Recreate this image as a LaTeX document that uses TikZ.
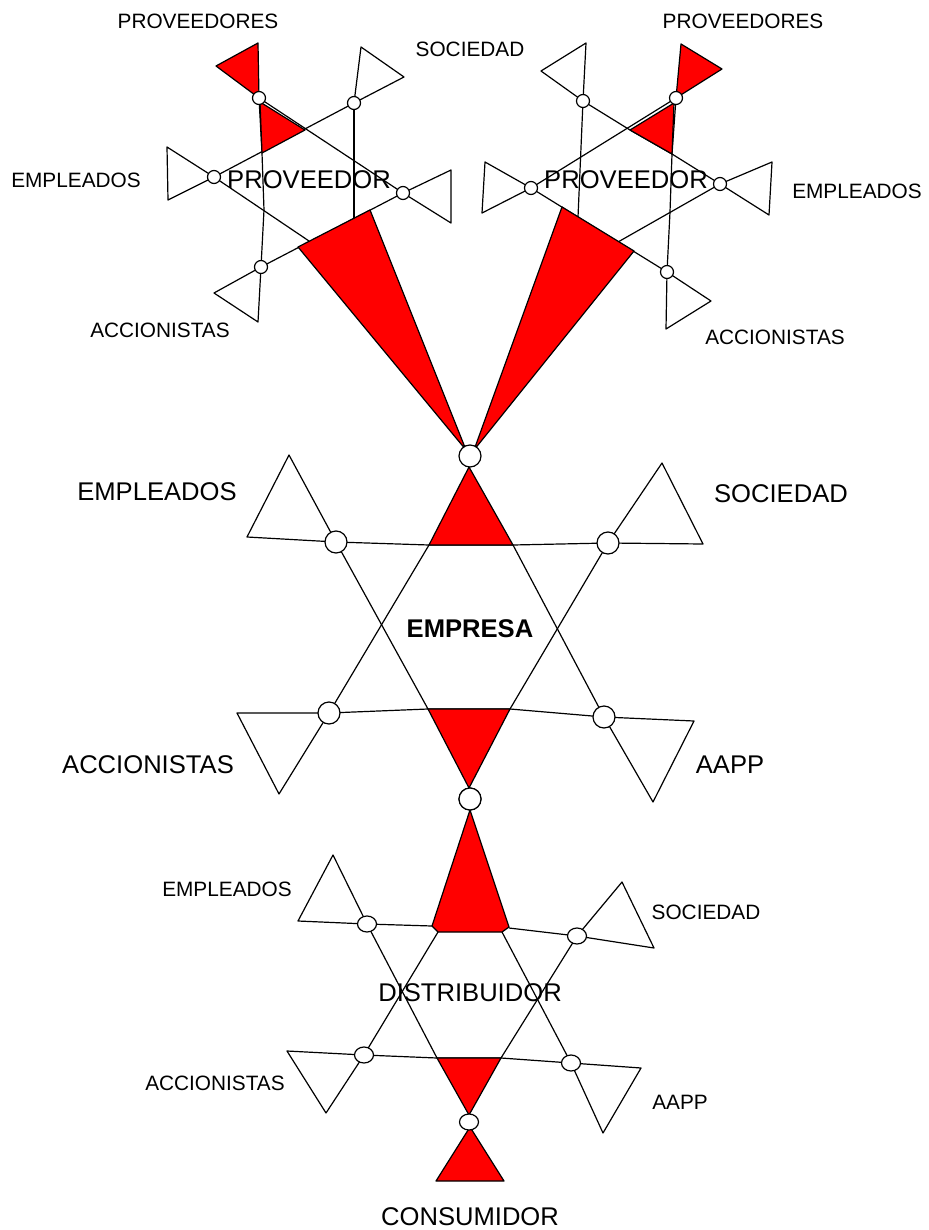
\documentclass[tikz,border=0pt]{standalone}
\usepackage{fontspec}
\setmainfont{Liberation Sans}
\usetikzlibrary{calc}
\definecolor{Rojo}{HTML}{FF0000}

\begin{document}
\begin{tikzpicture}[x=1pt,y=-1pt,line width=1.2pt,line join=round,
  rojo/.style={draw=black,fill=Rojo},
  blanco/.style={draw=black,fill=white},
  nudo/.style={draw=black,fill=white},
  chico/.style={font=\fontsize{20.8}{24}\selectfont},
  grande/.style={font=\fontsize{25.6}{30}\selectfont}
]
\useasboundingbox (0,0) rectangle (928,1230);

% proveedor izquierdo
\draw (259,98)--(262,153)--(264,210)--(261,267);
\draw (354,103)--(354,218);
\draw (259,98)--(403,193);
\draw (354,103)--(214,177);
\draw (214,177)--(309,241);
\draw (403,193)--(261,267);
\draw[rojo] (260,102)--(305,130)--(262,153)--cycle;
\draw[rojo] (298,247)--(370,210)--(466,450)--cycle;
\draw[rojo] (216,66)--(258,43)--(259,98)--cycle;
\draw[blanco] (361,47)--(404,77)--(354,103)--cycle;
\draw[blanco] (167,147)--(168,200)--(214,177)--cycle;
\draw[blanco] (451,170)--(451,223)--(403,193)--cycle;
\draw[blanco] (214,293)--(258,322)--(261,267)--cycle;
\foreach \p in {(259,98),(354,103),(214,177),(403,193),(261,267)}
  \draw[nudo] \p circle (6.5);

% proveedor derecho
\draw (676,98)--(672,154)--(670,212)--(667,272);
\draw (583,101)--(578,217);
\draw (583,101)--(630,130)--(672,154)--(720,184);
\draw (676,98)--(531,188);
\draw (531,188)--(667,272);
\draw (720,184)--(618,242);
\draw[rojo] (674,103)--(630,130)--(672,154)--cycle;
\draw[rojo] (562,207)--(634,251)--(474,450)--cycle;
\draw[rojo] (681,44)--(722,69)--(676,98)--cycle;
\draw[blanco] (541,71)--(586,43)--(583,101)--cycle;
\draw[blanco] (485,162)--(482,213)--(531,188)--cycle;
\draw[blanco] (772,162)--(769,215)--(720,184)--cycle;
\draw[blanco] (711,301)--(666,329)--(667,272)--cycle;
\foreach \p in {(676,98),(583,101),(531,188),(720,184),(667,272)}
  \draw[nudo] \p circle (6.5);

% empresa
\draw (336,542)--(429,545)--(513,545)--(608,543);
\draw (329,713)--(428,709)--(510,709)--(604,717);
\draw (336,542)--(428,709);
\draw (608,543)--(510,709);
\draw (429,545)--(329,713);
\draw (513,545)--(604,717);
\draw[rojo] (469,467)--(429,545)--(513,545)--cycle;
\draw[rojo] (428,709)--(510,709)--(469,788)--cycle;
\draw[blanco] (289,455)--(247,537)--(336,542)--cycle;
\draw[blanco] (662,463)--(703,544)--(608,543)--cycle;
\draw[blanco] (237,713)--(279,794)--(329,713)--cycle;
\draw[blanco] (694,721)--(653,802)--(604,717)--cycle;
\foreach \p in {(470,456),(336,542),(608,543),(329,713),(604,717),(470,799)}
  \draw[nudo] \p circle (11);

% distribuidor
\draw (367,924)--(432,926);
\draw (509,928)--(577,936);
\draw (367,924)--(437,1058);
\draw (438,932)--(364,1055);
\draw (502,932)--(571,1063);
\draw (577,936)--(501,1058);
\draw (364,1055)--(437,1058)--(501,1058)--(571,1063);
\draw[rojo] (470,810)--(432,926)--(438,932)--(502,932)--(509,927)--cycle;
\draw[rojo] (437,1058)--(501,1058)--(469,1115)--cycle;
\draw[rojo] (470,1127)--(504,1181)--(436,1181)--cycle;
\draw[blanco] (333,855)--(298,921)--(367,924)--cycle;
\draw[blanco] (622,882)--(654,948)--(577,936)--cycle;
\draw[blanco] (287,1051)--(326,1113)--(364,1055)--cycle;
\draw[blanco] (641,1068)--(603,1133)--(571,1063)--cycle;
\foreach \p in {(367,924),(577,936),(364,1055),(571,1063),(469,1122)}
  \draw[nudo] \p ellipse (9.5 and 8);
\draw[nudo] (470,799) circle (11);

% textos
\node[chico] (provI) at (198,21) {PROVEEDORES};
\node[chico] (socS) at (470,49) {SOCIEDAD};
\node[chico] (provD) at (743,21) {PROVEEDORES};
\node[chico] (empI) at (76,180) {EMPLEADOS};
\node[chico] (empD) at (857,191) {EMPLEADOS};
\node[chico] (accI) at (160,330) {ACCIONISTAS};
\node[chico] (accD) at (775,337) {ACCIONISTAS};
\node[grande] (proveedorI) at (309,180) {PROVEEDOR};
\node[grande] (proveedorD) at (626,180) {PROVEEDOR};
\node[grande] (empE) at (157,492) {EMPLEADOS};
\node[grande] (socE) at (781,494) {SOCIEDAD};
\node[grande] (accE) at (148,765) {ACCIONISTAS};
\node[grande] (aappE) at (730,765) {AAPP};
\node[grande,font=\fontsize{25.6}{30}\selectfont\bfseries] (empresa) at (470,629) {EMPRESA};
\node[chico] (empDi) at (227,889) {EMPLEADOS};
\node[chico] (socDi) at (706,912) {SOCIEDAD};
\node[chico] (accDi) at (215,1083) {ACCIONISTAS};
\node[chico] (aappDi) at (680,1102) {AAPP};
\node[grande] (distribuidor) at (470,993) {DISTRIBUIDOR};
\node[grande] (consumidor) at (470,1217) {CONSUMIDOR};
\end{tikzpicture}
\end{document}
